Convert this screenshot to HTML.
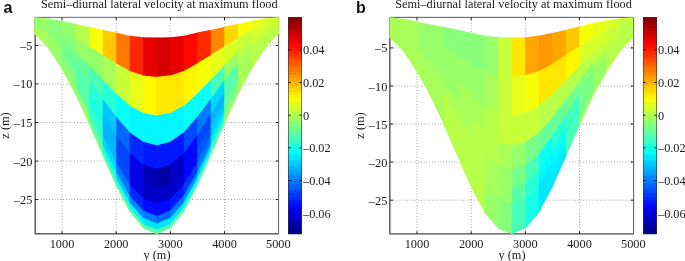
<!DOCTYPE html>
<html><head><meta charset="utf-8"><title>Semi-diurnal lateral velocity</title>
<style>html,body{margin:0;padding:0;background:#fff}svg{display:block;will-change:transform}</style></head>
<body>
<svg width="685" height="261" viewBox="0 0 685 261">
<rect width="685" height="261" fill="#fff"/>
<g  stroke="#2a2a2a" stroke-width="0.65" stroke-dasharray="0.65,2.15" fill="none">
<line x1="62.00" y1="17.35" x2="62.00" y2="234.00"/>
<line x1="116.20" y1="17.35" x2="116.20" y2="234.00"/>
<line x1="170.35" y1="17.35" x2="170.35" y2="234.00"/>
<line x1="224.50" y1="17.35" x2="224.50" y2="234.00"/>
<line x1="35.20" y1="45.40" x2="278.30" y2="45.40"/>
<line x1="35.20" y1="83.90" x2="278.30" y2="83.90"/>
<line x1="35.20" y1="122.45" x2="278.30" y2="122.45"/>
<line x1="35.20" y1="161.10" x2="278.30" y2="161.10"/>
<line x1="35.20" y1="199.50" x2="278.30" y2="199.50"/>
</g>
<g stroke="#636363" stroke-width="1.60" fill="none">
<path d="M35.25 17.35 V233.70 H278.80"/>
<path d="M35.20 17.35 H278.60 V234.00" stroke="#666" stroke-width="1"/>
</g>
<g stroke="#222" stroke-width="1" fill="none">
<path d="M62.00 234.00 v-2.7 M62.00 17.35 v2.7"/>
<path d="M116.20 234.00 v-2.7 M116.20 17.35 v2.7"/>
<path d="M170.35 234.00 v-2.7 M170.35 17.35 v2.7"/>
<path d="M224.50 234.00 v-2.7 M224.50 17.35 v2.7"/>
<path d="M35.20 45.40 h2.9 M278.30 45.40 h-2.7"/>
<path d="M35.20 83.90 h2.9 M278.30 83.90 h-2.7"/>
<path d="M35.20 122.45 h2.9 M278.30 122.45 h-2.7"/>
<path d="M35.20 161.10 h2.9 M278.30 161.10 h-2.7"/>
<path d="M35.20 199.50 h2.9 M278.30 199.50 h-2.7"/>
</g>
<g>
<polygon points="34.50,17.35 49.41,18.45 49.41,25.28 34.50,21.29" fill="#97ff68"/>
<polygon points="34.50,20.56 49.41,24.56 49.41,31.33 34.50,24.49" fill="#97ff68"/>
<polygon points="34.50,23.71 49.41,30.55 49.41,36.00 34.50,26.97" fill="#97ff68"/>
<polygon points="34.50,26.14 49.41,35.17 49.41,39.68 34.50,28.93" fill="#a7ff58"/>
<polygon points="34.50,28.06 49.41,38.81 49.41,42.69 34.50,30.53" fill="#a7ff58"/>
<polygon points="34.50,29.61 49.41,41.77 49.41,45.17 34.50,31.86" fill="#a7ff58"/>
<polygon points="34.50,30.90 49.41,44.21 49.41,47.12 34.50,32.90" fill="#a7ff58"/>
<polygon points="34.50,31.91 49.41,46.13 49.41,48.32 34.50,33.54" fill="#a7ff58"/>
<polygon points="34.50,32.53 49.41,47.31 49.41,49.31 34.50,34.07" fill="#a7ff58"/>
<polygon points="34.50,33.04 49.41,48.29 49.41,48.97 34.50,33.40" fill="#a7ff58"/>
<polygon points="48.71,18.40 62.91,21.13 62.91,31.80 48.71,25.13" fill="#87ff78"/>
<polygon points="48.71,24.36 62.91,31.03 62.91,41.62 48.71,31.08" fill="#87ff78"/>
<polygon points="48.71,30.21 62.91,40.74 62.91,49.19 48.71,35.69" fill="#87ff78"/>
<polygon points="48.71,34.72 62.91,48.23 62.91,55.18 48.71,39.33" fill="#97ff68"/>
<polygon points="48.71,38.28 62.91,54.13 62.91,60.05 48.71,42.29" fill="#97ff68"/>
<polygon points="48.71,41.17 62.91,58.93 62.91,64.08 48.71,44.74" fill="#97ff68"/>
<polygon points="48.71,43.56 62.91,62.90 62.91,67.24 48.71,46.66" fill="#97ff68"/>
<polygon points="48.71,45.43 62.91,66.01 62.91,69.18 48.71,47.84" fill="#97ff68"/>
<polygon points="48.71,46.58 62.91,67.92 62.91,70.79 48.71,48.82" fill="#97ff68"/>
<polygon points="48.71,47.54 62.91,69.50 62.91,70.60 48.71,48.20" fill="#97ff68"/>
<polygon points="62.21,21.00 76.42,24.05 76.42,39.26 62.21,31.50" fill="#97ff68"/>
<polygon points="62.21,30.70 76.42,38.46 76.42,53.54 62.21,41.15" fill="#87ff78"/>
<polygon points="62.21,40.23 76.42,52.62 76.42,64.57 62.21,48.62" fill="#78ff87"/>
<polygon points="62.21,47.56 76.42,63.52 76.42,73.27 62.21,54.51" fill="#68ff97"/>
<polygon points="62.21,53.35 76.42,72.11 76.42,80.36 62.21,59.31" fill="#78ff87"/>
<polygon points="62.21,58.05 76.42,79.10 76.42,86.21 62.21,63.27" fill="#87ff78"/>
<polygon points="62.21,61.94 76.42,84.88 76.42,90.81 62.21,66.39" fill="#87ff78"/>
<polygon points="62.21,64.99 76.42,89.42 76.42,93.63 62.21,68.30" fill="#97ff68"/>
<polygon points="62.21,66.87 76.42,92.20 76.42,95.97 62.21,69.88" fill="#97ff68"/>
<polygon points="62.21,68.42 76.42,94.50 76.42,96.11 62.21,69.50" fill="#a7ff58"/>
<polygon points="75.72,23.90 89.92,26.95 89.92,47.59 75.72,38.90" fill="#b7ff48"/>
<polygon points="75.72,38.08 89.92,46.77 89.92,67.22 75.72,53.00" fill="#97ff68"/>
<polygon points="75.72,52.00 89.92,66.23 89.92,82.37 75.72,63.88" fill="#68ff97"/>
<polygon points="75.72,62.73 89.92,81.22 89.92,94.33 75.72,72.47" fill="#58ffa7"/>
<polygon points="75.72,71.19 89.92,93.04 89.92,104.05 75.72,79.47" fill="#58ffa7"/>
<polygon points="75.72,78.07 89.92,102.65 89.92,112.10 75.72,85.25" fill="#58ffa7"/>
<polygon points="75.72,83.75 89.92,110.60 89.92,118.41 75.72,89.79" fill="#68ff97"/>
<polygon points="75.72,88.21 89.92,116.83 89.92,122.28 75.72,92.57" fill="#87ff78"/>
<polygon points="75.72,90.95 89.92,120.66 89.92,125.49 75.72,94.88" fill="#97ff68"/>
<polygon points="75.72,93.22 89.92,123.83 89.92,126.04 75.72,94.80" fill="#a7ff58"/>
<polygon points="89.22,26.80 103.43,30.06 103.43,56.39 89.22,47.17" fill="#f7ff08"/>
<polygon points="89.22,46.34 103.43,55.55 103.43,81.61 89.22,66.55" fill="#97ff68"/>
<polygon points="89.22,65.53 103.43,80.59 103.43,101.07 89.22,81.50" fill="#48ffb7"/>
<polygon points="89.22,80.31 103.43,99.87 103.43,116.42 89.22,93.30" fill="#28ffd7"/>
<polygon points="89.22,91.97 103.43,115.08 103.43,128.91 89.22,102.90" fill="#18ffe7"/>
<polygon points="89.22,101.44 103.43,127.45 103.43,139.23 89.22,110.84" fill="#28ffd7"/>
<polygon points="89.22,109.28 103.43,137.67 103.43,147.33 89.22,117.07" fill="#38ffc7"/>
<polygon points="89.22,115.42 103.43,145.69 103.43,152.30 89.22,120.89" fill="#58ffa7"/>
<polygon points="89.22,119.19 103.43,150.61 103.43,156.43 89.22,124.06" fill="#68ff97"/>
<polygon points="89.22,122.32 103.43,154.68 103.43,157.53 89.22,124.50" fill="#87ff78"/>
<polygon points="102.73,29.90 116.93,32.74 116.93,64.59 102.73,55.92" fill="#ffc700"/>
<polygon points="102.73,55.10 116.93,63.77 116.93,95.23 102.73,80.84" fill="#a7ff58"/>
<polygon points="102.73,79.85 116.93,94.24 116.93,118.87 102.73,100.07" fill="#28ffd7"/>
<polygon points="102.73,98.91 116.93,117.71 116.93,137.52 102.73,115.24" fill="#00c7ff"/>
<polygon points="102.73,113.94 116.93,136.22 116.93,152.68 102.73,127.59" fill="#00b7ff"/>
<polygon points="102.73,126.16 116.93,151.26 116.93,165.23 102.73,137.79" fill="#00b7ff"/>
<polygon points="102.73,136.27 116.93,163.71 116.93,175.07 102.73,145.80" fill="#00d7ff"/>
<polygon points="102.73,144.19 116.93,173.46 116.93,181.10 102.73,150.71" fill="#08fff7"/>
<polygon points="102.73,149.06 116.93,179.45 116.93,186.11 102.73,154.79" fill="#38ffc7"/>
<polygon points="102.73,153.09 116.93,184.42 116.93,187.88 102.73,155.90" fill="#78ff87"/>
<polygon points="116.23,32.60 130.44,35.97 130.44,72.24 116.23,64.15" fill="#ff7800"/>
<polygon points="116.23,63.34 130.44,71.44 130.44,107.21 116.23,94.47" fill="#c7ff38"/>
<polygon points="116.23,93.53 130.44,106.27 130.44,134.18 116.23,117.85" fill="#08fff7"/>
<polygon points="116.23,116.78 130.44,133.11 130.44,155.44 116.23,136.29" fill="#0068ff"/>
<polygon points="116.23,135.12 130.44,154.27 130.44,172.74 116.23,151.29" fill="#0048ff"/>
<polygon points="116.23,150.03 130.44,171.47 130.44,187.04 116.23,163.70" fill="#0048ff"/>
<polygon points="116.23,162.35 130.44,185.70 130.44,198.26 116.23,173.43" fill="#0078ff"/>
<polygon points="116.23,172.02 130.44,196.85 130.44,205.15 116.23,179.40" fill="#00c7ff"/>
<polygon points="116.23,177.95 130.44,203.70 130.44,210.86 116.23,184.35" fill="#18ffe7"/>
<polygon points="116.23,182.87 130.44,209.38 130.44,213.33 116.23,186.30" fill="#68ff97"/>
<polygon points="129.74,35.80 143.94,37.27 143.94,76.36 129.74,71.78" fill="#ff2800"/>
<polygon points="129.74,71.04 143.94,75.63 143.94,114.08 129.74,106.44" fill="#e7ff18"/>
<polygon points="129.74,105.65 143.94,113.29 143.94,143.16 129.74,133.16" fill="#00f7ff"/>
<polygon points="129.74,132.30 143.94,142.30 143.94,166.09 129.74,154.24" fill="#0028ff"/>
<polygon points="129.74,153.33 143.94,165.18 143.94,184.74 129.74,171.38" fill="#0000e7"/>
<polygon points="129.74,170.42 143.94,183.78 143.94,200.17 129.74,185.55" fill="#0000e7"/>
<polygon points="129.74,184.55 143.94,199.16 143.94,212.26 129.74,196.67" fill="#0028ff"/>
<polygon points="129.74,195.63 143.94,211.22 143.94,219.69 129.74,203.49" fill="#0087ff"/>
<polygon points="129.74,202.43 143.94,218.63 143.94,225.84 129.74,209.15" fill="#00f7ff"/>
<polygon points="129.74,208.07 143.94,224.76 143.94,229.04 129.74,212.00" fill="#68ff97"/>
<polygon points="143.24,37.20 157.45,37.52 157.45,77.62 143.24,76.10" fill="#e70000"/>
<polygon points="143.24,75.40 157.45,76.91 157.45,116.32 143.24,113.62" fill="#fff700"/>
<polygon points="143.24,112.91 157.45,115.60 157.45,146.13 143.24,142.53" fill="#00f7ff"/>
<polygon points="143.24,141.81 157.45,145.41 157.45,169.64 143.24,165.33" fill="#0018ff"/>
<polygon points="143.24,164.60 157.45,168.91 157.45,188.76 143.24,183.86" fill="#0000b7"/>
<polygon points="143.24,183.12 157.45,188.02 157.45,204.57 143.24,199.19" fill="#0000c7"/>
<polygon points="143.24,198.44 157.45,203.82 157.45,216.97 143.24,211.21" fill="#0008ff"/>
<polygon points="143.24,210.46 157.45,216.21 157.45,224.57 143.24,218.59" fill="#0078ff"/>
<polygon points="143.24,217.83 157.45,223.81 157.45,230.88 143.24,224.70" fill="#00e7ff"/>
<polygon points="143.24,223.94 157.45,230.12 157.45,234.51 143.24,228.20" fill="#58ffa7"/>
<polygon points="156.75,37.50 170.96,37.18 170.96,76.03 156.75,77.54" fill="#d70000"/>
<polygon points="156.75,76.84 170.96,75.33 170.96,113.49 156.75,116.18" fill="#ffe700"/>
<polygon points="156.75,115.47 170.96,112.78 170.96,142.36 156.75,145.95" fill="#00f7ff"/>
<polygon points="156.75,145.23 170.96,141.63 170.96,165.12 156.75,169.43" fill="#0018ff"/>
<polygon points="156.75,168.70 170.96,164.38 170.96,183.62 156.75,188.52" fill="#0000a7"/>
<polygon points="156.75,187.78 170.96,182.88 170.96,198.93 156.75,204.30" fill="#0000c7"/>
<polygon points="156.75,203.55 170.96,198.18 170.96,210.93 156.75,216.68" fill="#0008ff"/>
<polygon points="156.75,215.93 170.96,210.17 170.96,218.29 156.75,224.28" fill="#0068ff"/>
<polygon points="156.75,223.52 170.96,217.53 170.96,224.40 156.75,230.58" fill="#00e7ff"/>
<polygon points="156.75,229.81 170.96,223.64 170.96,227.89 156.75,234.20" fill="#58ffa7"/>
<polygon points="170.26,37.20 184.46,35.73 184.46,71.55 170.26,76.14" fill="#e70000"/>
<polygon points="170.26,75.40 184.46,70.81 184.46,106.06 170.26,113.71" fill="#ffe700"/>
<polygon points="170.26,112.91 184.46,105.27 184.46,132.67 170.26,142.67" fill="#00f7ff"/>
<polygon points="170.26,141.81 184.46,131.81 184.46,153.65 170.26,165.51" fill="#0018ff"/>
<polygon points="170.26,164.60 184.46,152.74 184.46,170.72 170.26,184.09" fill="#0000c7"/>
<polygon points="170.26,183.12 184.46,169.76 184.46,184.83 170.26,199.45" fill="#0000c7"/>
<polygon points="170.26,198.44 184.46,183.83 184.46,195.90 170.26,211.50" fill="#0018ff"/>
<polygon points="170.26,210.46 184.46,194.86 184.46,202.70 170.26,218.89" fill="#0078ff"/>
<polygon points="170.26,217.83 184.46,201.63 184.46,208.33 170.26,225.02" fill="#00e7ff"/>
<polygon points="170.26,223.94 184.46,207.25 184.46,211.16 170.26,228.20" fill="#58ffa7"/>
<polygon points="183.76,35.80 197.97,32.43 197.97,63.75 183.76,71.85" fill="#ff0800"/>
<polygon points="183.76,71.04 197.97,62.94 197.97,93.84 183.76,106.59" fill="#fff700"/>
<polygon points="183.76,105.65 197.97,92.90 197.97,117.04 183.76,133.37" fill="#08fff7"/>
<polygon points="183.76,132.30 197.97,115.98 197.97,135.35 183.76,154.50" fill="#0048ff"/>
<polygon points="183.76,153.33 197.97,134.17 197.97,150.24 183.76,171.68" fill="#0008ff"/>
<polygon points="183.76,170.42 197.97,148.97 197.97,162.55 183.76,185.89" fill="#0008ff"/>
<polygon points="183.76,184.55 197.97,161.20 197.97,172.21 183.76,197.04" fill="#0038ff"/>
<polygon points="183.76,195.63 197.97,170.80 197.97,178.13 183.76,203.88" fill="#0097ff"/>
<polygon points="183.76,202.43 197.97,176.69 197.97,183.05 183.76,209.55" fill="#00f7ff"/>
<polygon points="183.76,208.07 197.97,181.57 197.97,184.97 183.76,212.00" fill="#68ff97"/>
<polygon points="197.27,32.60 211.47,29.76 211.47,55.49 197.27,64.16" fill="#ff2800"/>
<polygon points="197.27,63.34 211.47,54.67 211.47,80.13 197.27,94.52" fill="#f7ff08"/>
<polygon points="197.27,93.53 211.47,79.14 211.47,99.14 197.27,117.94" fill="#08fff7"/>
<polygon points="197.27,116.78 211.47,97.98 211.47,114.15 197.27,136.42" fill="#0078ff"/>
<polygon points="197.27,135.12 211.47,112.84 211.47,126.35 197.27,151.45" fill="#0048ff"/>
<polygon points="197.27,150.03 211.47,124.93 211.47,136.44 197.27,163.88" fill="#0058ff"/>
<polygon points="197.27,162.35 211.47,134.92 211.47,144.36 197.27,173.62" fill="#0078ff"/>
<polygon points="197.27,172.02 211.47,142.75 211.47,149.21 197.27,179.61" fill="#00c7ff"/>
<polygon points="197.27,177.95 211.47,147.56 211.47,153.24 197.27,184.57" fill="#18ffe7"/>
<polygon points="197.27,182.87 211.47,151.55 211.47,154.32 197.27,186.30" fill="#68ff97"/>
<polygon points="210.77,29.90 224.98,26.64 224.98,46.72 210.77,55.93" fill="#ff8700"/>
<polygon points="210.77,55.10 224.98,45.89 224.98,65.81 210.77,80.87" fill="#e7ff18"/>
<polygon points="210.77,79.85 224.98,64.79 224.98,80.54 210.77,100.10" fill="#48ffb7"/>
<polygon points="210.77,98.91 224.98,79.35 224.98,92.16 210.77,115.28" fill="#00d7ff"/>
<polygon points="210.77,113.94 224.98,90.83 224.98,101.62 210.77,127.62" fill="#00b7ff"/>
<polygon points="210.77,126.16 224.98,100.16 224.98,109.44 210.77,137.83" fill="#00c7ff"/>
<polygon points="210.77,136.27 224.98,107.88 224.98,115.58 210.77,145.84" fill="#00e7ff"/>
<polygon points="210.77,144.19 224.98,113.93 224.98,119.35 210.77,150.76" fill="#18ffe7"/>
<polygon points="210.77,149.06 224.98,117.65 224.98,122.47 210.77,154.83" fill="#48ffb7"/>
<polygon points="210.77,153.09 224.98,120.73 224.98,122.87 210.77,155.90" fill="#78ff87"/>
<polygon points="224.28,26.80 238.48,23.75 238.48,38.47 224.28,47.16" fill="#ffd700"/>
<polygon points="224.28,46.34 238.48,37.65 238.48,52.29 224.28,66.52" fill="#d7ff28"/>
<polygon points="224.28,65.53 238.48,51.30 238.48,62.97 224.28,81.46" fill="#97ff68"/>
<polygon points="224.28,80.31 238.48,61.82 238.48,71.40 224.28,93.25" fill="#58ffa7"/>
<polygon points="224.28,91.97 238.48,70.11 238.48,78.26 224.28,102.84" fill="#58ffa7"/>
<polygon points="224.28,101.44 238.48,76.86 238.48,83.93 224.28,110.78" fill="#68ff97"/>
<polygon points="224.28,109.28 238.48,82.43 238.48,88.38 224.28,117.00" fill="#78ff87"/>
<polygon points="224.28,115.42 238.48,86.80 238.48,91.11 224.28,120.82" fill="#87ff78"/>
<polygon points="224.28,119.19 238.48,89.49 238.48,93.37 224.28,123.98" fill="#97ff68"/>
<polygon points="224.28,122.32 238.48,91.71 238.48,93.26 224.28,124.50" fill="#a7ff58"/>
<polygon points="237.78,23.90 251.99,20.85 251.99,31.12 237.78,38.88" fill="#f7ff08"/>
<polygon points="237.78,38.08 251.99,30.32 251.99,40.54 237.78,52.93" fill="#c7ff38"/>
<polygon points="237.78,52.00 251.99,39.61 251.99,47.83 237.78,63.78" fill="#b7ff48"/>
<polygon points="237.78,62.73 251.99,46.78 251.99,53.58 237.78,72.35" fill="#a7ff58"/>
<polygon points="237.78,71.19 251.99,52.42 251.99,58.27 237.78,79.32" fill="#a7ff58"/>
<polygon points="237.78,78.07 251.99,57.02 251.99,62.14 237.78,85.08" fill="#a7ff58"/>
<polygon points="237.78,83.75 251.99,60.81 251.99,65.18 237.78,89.61" fill="#a7ff58"/>
<polygon points="237.78,88.21 251.99,63.79 251.99,67.05 237.78,92.38" fill="#a7ff58"/>
<polygon points="237.78,90.95 251.99,65.62 251.99,68.60 237.78,94.68" fill="#a7ff58"/>
<polygon points="237.78,93.22 251.99,67.13 251.99,68.19 237.78,94.80" fill="#a7ff58"/>
<polygon points="251.29,21.00 265.49,18.27 265.49,24.80 251.29,31.47" fill="#e7ff18"/>
<polygon points="251.29,30.70 265.49,24.03 265.49,30.57 251.29,41.10" fill="#d7ff28"/>
<polygon points="251.29,40.23 265.49,29.69 265.49,35.02 251.29,48.53" fill="#c7ff38"/>
<polygon points="251.29,47.56 265.49,34.06 265.49,38.54 251.29,54.40" fill="#b7ff48"/>
<polygon points="251.29,53.35 265.49,37.50 265.49,41.41 251.29,59.17" fill="#b7ff48"/>
<polygon points="251.29,58.05 265.49,40.29 265.49,43.79 251.29,63.13" fill="#b7ff48"/>
<polygon points="251.29,61.94 265.49,42.60 265.49,45.65 251.29,66.23" fill="#b7ff48"/>
<polygon points="251.29,64.99 265.49,44.42 265.49,46.79 251.29,68.13" fill="#b7ff48"/>
<polygon points="251.29,66.87 265.49,45.53 265.49,47.74 251.29,69.71" fill="#b7ff48"/>
<polygon points="251.29,68.42 265.49,46.45 265.49,47.10 251.29,69.50" fill="#b7ff48"/>
<polygon points="264.79,18.40 278.80,17.31 278.80,21.15 264.79,25.09" fill="#d7ff28"/>
<polygon points="264.79,24.36 278.80,20.42 278.80,24.25 264.79,30.99" fill="#c7ff38"/>
<polygon points="264.79,30.21 278.80,23.47 278.80,26.65 264.79,35.55" fill="#c7ff38"/>
<polygon points="264.79,34.72 278.80,25.82 278.80,28.55 264.79,39.15" fill="#b7ff48"/>
<polygon points="264.79,38.28 278.80,27.68 278.80,30.11 264.79,42.09" fill="#b7ff48"/>
<polygon points="264.79,41.17 278.80,29.18 278.80,31.39 264.79,44.52" fill="#b7ff48"/>
<polygon points="264.79,43.56 278.80,30.43 278.80,32.40 264.79,46.42" fill="#b7ff48"/>
<polygon points="264.79,45.43 278.80,31.41 278.80,33.02 264.79,47.59" fill="#b7ff48"/>
<polygon points="264.79,46.58 278.80,32.01 278.80,33.53 264.79,48.56" fill="#b7ff48"/>
<polygon points="264.79,47.54 278.80,32.51 278.80,32.85 264.79,48.20" fill="#b7ff48"/>
</g>
<g shape-rendering="crispEdges">
<rect x="288.40" y="17.35" width="13.20" height="3.69" fill="#870000"/>
<rect x="288.40" y="20.74" width="13.20" height="3.69" fill="#970000"/>
<rect x="288.40" y="24.12" width="13.20" height="3.69" fill="#a70000"/>
<rect x="288.40" y="27.51" width="13.20" height="3.69" fill="#b70000"/>
<rect x="288.40" y="30.89" width="13.20" height="3.69" fill="#c70000"/>
<rect x="288.40" y="34.28" width="13.20" height="3.69" fill="#d70000"/>
<rect x="288.40" y="37.66" width="13.20" height="3.69" fill="#e70000"/>
<rect x="288.40" y="41.05" width="13.20" height="3.69" fill="#f70000"/>
<rect x="288.40" y="44.43" width="13.20" height="3.69" fill="#ff0800"/>
<rect x="288.40" y="47.82" width="13.20" height="3.69" fill="#ff1800"/>
<rect x="288.40" y="51.20" width="13.20" height="3.69" fill="#ff2800"/>
<rect x="288.40" y="54.59" width="13.20" height="3.69" fill="#ff3800"/>
<rect x="288.40" y="57.97" width="13.20" height="3.69" fill="#ff4800"/>
<rect x="288.40" y="61.36" width="13.20" height="3.69" fill="#ff5800"/>
<rect x="288.40" y="64.74" width="13.20" height="3.69" fill="#ff6800"/>
<rect x="288.40" y="68.13" width="13.20" height="3.69" fill="#ff7800"/>
<rect x="288.40" y="71.51" width="13.20" height="3.69" fill="#ff8700"/>
<rect x="288.40" y="74.90" width="13.20" height="3.69" fill="#ff9700"/>
<rect x="288.40" y="78.28" width="13.20" height="3.69" fill="#ffa700"/>
<rect x="288.40" y="81.67" width="13.20" height="3.69" fill="#ffb700"/>
<rect x="288.40" y="85.05" width="13.20" height="3.69" fill="#ffc700"/>
<rect x="288.40" y="88.44" width="13.20" height="3.69" fill="#ffd700"/>
<rect x="288.40" y="91.82" width="13.20" height="3.69" fill="#ffe700"/>
<rect x="288.40" y="95.21" width="13.20" height="3.69" fill="#fff700"/>
<rect x="288.40" y="98.59" width="13.20" height="3.69" fill="#f7ff08"/>
<rect x="288.40" y="101.98" width="13.20" height="3.69" fill="#e7ff18"/>
<rect x="288.40" y="105.36" width="13.20" height="3.69" fill="#d7ff28"/>
<rect x="288.40" y="108.75" width="13.20" height="3.69" fill="#c7ff38"/>
<rect x="288.40" y="112.13" width="13.20" height="3.69" fill="#b7ff48"/>
<rect x="288.40" y="115.52" width="13.20" height="3.69" fill="#a7ff58"/>
<rect x="288.40" y="118.90" width="13.20" height="3.69" fill="#97ff68"/>
<rect x="288.40" y="122.29" width="13.20" height="3.69" fill="#87ff78"/>
<rect x="288.40" y="125.68" width="13.20" height="3.69" fill="#78ff87"/>
<rect x="288.40" y="129.06" width="13.20" height="3.69" fill="#68ff97"/>
<rect x="288.40" y="132.45" width="13.20" height="3.69" fill="#58ffa7"/>
<rect x="288.40" y="135.83" width="13.20" height="3.69" fill="#48ffb7"/>
<rect x="288.40" y="139.22" width="13.20" height="3.69" fill="#38ffc7"/>
<rect x="288.40" y="142.60" width="13.20" height="3.69" fill="#28ffd7"/>
<rect x="288.40" y="145.99" width="13.20" height="3.69" fill="#18ffe7"/>
<rect x="288.40" y="149.37" width="13.20" height="3.69" fill="#08fff7"/>
<rect x="288.40" y="152.76" width="13.20" height="3.69" fill="#00f7ff"/>
<rect x="288.40" y="156.14" width="13.20" height="3.69" fill="#00e7ff"/>
<rect x="288.40" y="159.53" width="13.20" height="3.69" fill="#00d7ff"/>
<rect x="288.40" y="162.91" width="13.20" height="3.69" fill="#00c7ff"/>
<rect x="288.40" y="166.30" width="13.20" height="3.69" fill="#00b7ff"/>
<rect x="288.40" y="169.68" width="13.20" height="3.69" fill="#00a7ff"/>
<rect x="288.40" y="173.07" width="13.20" height="3.69" fill="#0097ff"/>
<rect x="288.40" y="176.45" width="13.20" height="3.69" fill="#0087ff"/>
<rect x="288.40" y="179.84" width="13.20" height="3.69" fill="#0078ff"/>
<rect x="288.40" y="183.22" width="13.20" height="3.69" fill="#0068ff"/>
<rect x="288.40" y="186.61" width="13.20" height="3.69" fill="#0058ff"/>
<rect x="288.40" y="189.99" width="13.20" height="3.69" fill="#0048ff"/>
<rect x="288.40" y="193.38" width="13.20" height="3.69" fill="#0038ff"/>
<rect x="288.40" y="196.76" width="13.20" height="3.69" fill="#0028ff"/>
<rect x="288.40" y="200.15" width="13.20" height="3.69" fill="#0018ff"/>
<rect x="288.40" y="203.53" width="13.20" height="3.69" fill="#0008ff"/>
<rect x="288.40" y="206.92" width="13.20" height="3.69" fill="#0000f7"/>
<rect x="288.40" y="210.30" width="13.20" height="3.69" fill="#0000e7"/>
<rect x="288.40" y="213.69" width="13.20" height="3.69" fill="#0000d7"/>
<rect x="288.40" y="217.07" width="13.20" height="3.69" fill="#0000c7"/>
<rect x="288.40" y="220.46" width="13.20" height="3.69" fill="#0000b7"/>
<rect x="288.40" y="223.84" width="13.20" height="3.69" fill="#0000a7"/>
<rect x="288.40" y="227.23" width="13.20" height="3.69" fill="#000097"/>
<rect x="288.40" y="230.61" width="13.20" height="3.69" fill="#000087"/>
</g>
<rect x="288.40" y="17.35" width="13.20" height="216.65" fill="none" stroke="#333" stroke-width="0.6"/>
<g stroke="#111" stroke-width="1">
<path d="M288.40 49.80 h2.2 M301.60 49.80 h-2.2"/>
<path d="M288.40 82.50 h2.2 M301.60 82.50 h-2.2"/>
<path d="M288.40 115.20 h2.2 M301.60 115.20 h-2.2"/>
<path d="M288.40 147.80 h2.2 M301.60 147.80 h-2.2"/>
<path d="M288.40 180.50 h2.2 M301.60 180.50 h-2.2"/>
<path d="M288.40 213.20 h2.2 M301.60 213.20 h-2.2"/>
</g>
<g font-family="'Liberation Serif', serif" font-size="12.3px" fill="#1a1a1a">
<text x="303.00" y="54.10">0.04</text>
<text x="303.00" y="86.80">0.02</text>
<text x="303.00" y="119.50">0</text>
<text x="303.00" y="152.10">–0.02</text>
<text x="303.00" y="184.80">–0.04</text>
<text x="303.00" y="217.50">–0.06</text>
<text x="62.00" y="247.6" text-anchor="middle">1000</text>
<text x="116.20" y="247.6" text-anchor="middle">2000</text>
<text x="170.35" y="247.6" text-anchor="middle">3000</text>
<text x="224.50" y="247.6" text-anchor="middle">4000</text>
<text x="278.30" y="247.6" text-anchor="middle">5000</text>
<text x="32.30" y="49.90" text-anchor="end">–5</text>
<text x="32.30" y="88.40" text-anchor="end">–10</text>
<text x="32.30" y="126.95" text-anchor="end">–15</text>
<text x="32.30" y="165.60" text-anchor="end">–20</text>
<text x="32.30" y="204.00" text-anchor="end">–25</text>
<text x="157.00" y="258.6" text-anchor="middle">y (m)</text>
<text transform="translate(8.50,125.5) rotate(-90)" text-anchor="middle">z (m)</text>
<text x="41.00" y="8.15">Semi–diurnal lateral velocity at maximum flood</text>
</g>
<text x="3.40" y="12.6" font-family="'Liberation Sans', sans-serif" font-weight="bold" font-size="16px" fill="#111">a</text>
<g  stroke="#2a2a2a" stroke-width="0.65" stroke-dasharray="0.65,2.15" fill="none">
<line x1="417.00" y1="17.35" x2="417.00" y2="234.00"/>
<line x1="471.20" y1="17.35" x2="471.20" y2="234.00"/>
<line x1="525.35" y1="17.35" x2="525.35" y2="234.00"/>
<line x1="579.50" y1="17.35" x2="579.50" y2="234.00"/>
<line x1="390.20" y1="47.90" x2="633.30" y2="47.90"/>
<line x1="390.20" y1="86.00" x2="633.30" y2="86.00"/>
<line x1="390.20" y1="124.05" x2="633.30" y2="124.05"/>
<line x1="390.20" y1="162.10" x2="633.30" y2="162.10"/>
<line x1="390.20" y1="200.20" x2="633.30" y2="200.20"/>
</g>
<g stroke="#4a4a4a" stroke-width="1.35" fill="none">
<path d="M389.85 17.35 V233.85 H633.80"/>
<path d="M390.20 17.35 H633.60 V234.00" stroke="#555" stroke-width="1"/>
</g>
<g stroke="#222" stroke-width="1" fill="none">
<path d="M417.00 234.00 v-2.7 M417.00 17.35 v2.7"/>
<path d="M471.20 234.00 v-2.7 M471.20 17.35 v2.7"/>
<path d="M525.35 234.00 v-2.7 M525.35 17.35 v2.7"/>
<path d="M579.50 234.00 v-2.7 M579.50 17.35 v2.7"/>
<path d="M390.20 47.90 h2.9 M633.30 47.90 h-2.7"/>
<path d="M390.20 86.00 h2.9 M633.30 86.00 h-2.7"/>
<path d="M390.20 124.05 h2.9 M633.30 124.05 h-2.7"/>
<path d="M390.20 162.10 h2.9 M633.30 162.10 h-2.7"/>
<path d="M390.20 200.20 h2.9 M633.30 200.20 h-2.7"/>
</g>
<g>
<polygon points="389.50,17.35 404.41,18.93 404.41,26.26 389.50,22.01" fill="#a7ff58"/>
<polygon points="389.50,21.28 404.41,25.53 404.41,32.79 389.50,25.92" fill="#a7ff58"/>
<polygon points="389.50,25.14 404.41,32.01 404.41,37.83 389.50,28.94" fill="#a7ff58"/>
<polygon points="389.50,28.11 404.41,37.01 404.41,41.81 389.50,31.33" fill="#a7ff58"/>
<polygon points="389.50,30.46 404.41,40.94 404.41,45.06 389.50,33.27" fill="#a7ff58"/>
<polygon points="389.50,32.36 404.41,44.15 404.41,47.74 389.50,34.88" fill="#a7ff58"/>
<polygon points="389.50,33.94 404.41,46.79 404.41,49.84 389.50,36.15" fill="#a7ff58"/>
<polygon points="389.50,35.17 404.41,48.87 404.41,51.13 389.50,36.92" fill="#a7ff58"/>
<polygon points="389.50,35.93 404.41,50.14 404.41,52.21 389.50,37.57" fill="#a7ff58"/>
<polygon points="389.50,36.56 404.41,51.20 404.41,51.94 389.50,37.00" fill="#a7ff58"/>
<polygon points="403.71,18.85 417.91,21.85 417.91,32.87 403.71,26.10" fill="#a7ff58"/>
<polygon points="403.71,25.32 417.91,32.09 417.91,43.03 403.71,32.54" fill="#a7ff58"/>
<polygon points="403.71,31.67 417.91,42.16 417.91,50.87 403.71,37.53" fill="#a7ff58"/>
<polygon points="403.71,36.57 417.91,49.91 417.91,57.06 403.71,41.47" fill="#a7ff58"/>
<polygon points="403.71,40.43 417.91,56.02 417.91,62.10 403.71,44.67" fill="#a7ff58"/>
<polygon points="403.71,43.57 417.91,60.99 417.91,66.26 403.71,47.33" fill="#a7ff58"/>
<polygon points="403.71,46.16 417.91,65.10 417.91,69.53 403.71,49.41" fill="#a7ff58"/>
<polygon points="403.71,48.19 417.91,68.32 417.91,71.54 403.71,50.69" fill="#a7ff58"/>
<polygon points="403.71,49.44 417.91,70.30 417.91,73.20 403.71,51.75" fill="#a7ff58"/>
<polygon points="403.71,50.48 417.91,71.94 417.91,73.08 403.71,51.20" fill="#a7ff58"/>
<polygon points="417.21,21.70 431.42,24.65 431.42,40.06 417.21,32.55" fill="#97ff68"/>
<polygon points="417.21,31.76 431.42,39.27 431.42,54.55 417.21,42.56" fill="#97ff68"/>
<polygon points="417.21,41.64 431.42,53.63 431.42,65.73 417.21,50.28" fill="#97ff68"/>
<polygon points="417.21,49.25 431.42,64.70 431.42,74.56 417.21,56.39" fill="#a7ff58"/>
<polygon points="417.21,55.25 431.42,73.42 431.42,81.74 417.21,61.35" fill="#a7ff58"/>
<polygon points="417.21,60.13 431.42,80.51 431.42,87.68 417.21,65.46" fill="#a7ff58"/>
<polygon points="417.21,64.16 431.42,86.38 431.42,92.34 417.21,68.69" fill="#a7ff58"/>
<polygon points="417.21,67.33 431.42,90.98 431.42,95.20 417.21,70.67" fill="#a7ff58"/>
<polygon points="417.21,69.27 431.42,93.80 431.42,97.57 417.21,72.31" fill="#a7ff58"/>
<polygon points="417.21,70.88 431.42,96.14 431.42,97.77 417.21,72.00" fill="#a7ff58"/>
<polygon points="430.72,24.50 444.92,27.23 444.92,48.11 430.72,39.71" fill="#97ff68"/>
<polygon points="430.72,38.90 444.92,47.29 444.92,67.97 430.72,54.02" fill="#97ff68"/>
<polygon points="430.72,53.04 444.92,66.99 444.92,83.30 430.72,65.07" fill="#97ff68"/>
<polygon points="430.72,63.93 444.92,82.17 444.92,95.41 430.72,73.80" fill="#a7ff58"/>
<polygon points="430.72,72.52 444.92,94.13 444.92,105.25 430.72,80.90" fill="#a7ff58"/>
<polygon points="430.72,79.51 444.92,103.86 444.92,113.39 430.72,86.77" fill="#a7ff58"/>
<polygon points="430.72,85.28 444.92,111.90 444.92,119.78 430.72,91.38" fill="#a7ff58"/>
<polygon points="430.72,89.81 444.92,118.21 444.92,123.70 430.72,94.20" fill="#a7ff58"/>
<polygon points="430.72,92.59 444.92,122.08 444.92,126.95 430.72,96.55" fill="#a7ff58"/>
<polygon points="430.72,94.89 444.92,125.29 444.92,127.53 430.72,96.50" fill="#a7ff58"/>
<polygon points="444.22,27.10 458.43,29.83 458.43,56.45 444.22,47.70" fill="#87ff78"/>
<polygon points="444.22,46.88 458.43,55.63 458.43,81.97 444.22,67.31" fill="#97ff68"/>
<polygon points="444.22,66.30 458.43,80.96 458.43,101.66 444.22,82.44" fill="#97ff68"/>
<polygon points="444.22,81.27 458.43,100.48 458.43,117.19 444.22,94.39" fill="#a7ff58"/>
<polygon points="444.22,93.07 458.43,115.87 458.43,129.83 444.22,104.11" fill="#b7ff48"/>
<polygon points="444.22,102.66 458.43,128.38 458.43,140.27 444.22,112.14" fill="#b7ff48"/>
<polygon points="444.22,110.59 458.43,138.72 458.43,148.47 444.22,118.45" fill="#b7ff48"/>
<polygon points="444.22,116.81 458.43,146.83 458.43,153.50 444.22,122.32" fill="#b7ff48"/>
<polygon points="444.22,120.63 458.43,151.81 458.43,157.67 444.22,125.53" fill="#b7ff48"/>
<polygon points="444.22,123.79 458.43,155.94 458.43,158.82 444.22,126.00" fill="#b7ff48"/>
<polygon points="457.73,29.70 471.93,32.86 471.93,64.95 457.73,56.03" fill="#87ff78"/>
<polygon points="457.73,55.20 471.93,64.12 471.93,95.82 457.73,81.24" fill="#97ff68"/>
<polygon points="457.73,80.24 471.93,94.82 471.93,119.64 457.73,100.70" fill="#a7ff58"/>
<polygon points="457.73,99.53 471.93,118.47 471.93,138.43 457.73,116.05" fill="#a7ff58"/>
<polygon points="457.73,114.74 471.93,137.12 471.93,153.71 457.73,128.53" fill="#b7ff48"/>
<polygon points="457.73,127.11 471.93,152.28 471.93,166.35 457.73,138.86" fill="#b7ff48"/>
<polygon points="457.73,137.34 471.93,164.82 471.93,176.26 457.73,146.96" fill="#b7ff48"/>
<polygon points="457.73,145.36 471.93,174.65 471.93,182.34 457.73,151.93" fill="#b7ff48"/>
<polygon points="457.73,150.28 471.93,180.69 471.93,187.38 457.73,156.05" fill="#b7ff48"/>
<polygon points="457.73,154.36 471.93,185.69 471.93,189.18 457.73,157.20" fill="#b7ff48"/>
<polygon points="471.23,32.70 485.44,35.86 485.44,72.35 471.23,64.48" fill="#87ff78"/>
<polygon points="471.23,63.68 485.44,71.55 485.44,107.53 471.23,95.03" fill="#97ff68"/>
<polygon points="471.23,94.10 485.44,106.60 485.44,134.66 471.23,118.60" fill="#a7ff58"/>
<polygon points="471.23,117.54 485.44,133.60 485.44,156.05 471.23,137.18" fill="#b7ff48"/>
<polygon points="471.23,136.02 485.44,154.89 485.44,173.46 471.23,152.30" fill="#b7ff48"/>
<polygon points="471.23,151.04 485.44,172.20 485.44,187.85 471.23,164.80" fill="#b7ff48"/>
<polygon points="471.23,163.47 485.44,186.51 485.44,199.13 471.23,174.61" fill="#b7ff48"/>
<polygon points="471.23,173.21 485.44,197.74 485.44,206.06 471.23,180.62" fill="#b7ff48"/>
<polygon points="471.23,179.19 485.44,204.63 485.44,211.81 471.23,185.61" fill="#b7ff48"/>
<polygon points="471.23,184.15 485.44,210.34 485.44,214.32 471.23,187.60" fill="#b7ff48"/>
<polygon points="484.74,35.70 498.94,37.28 498.94,76.40 484.74,71.89" fill="#97ff68"/>
<polygon points="484.74,71.16 498.94,75.66 498.94,114.14 484.74,106.77" fill="#a7ff58"/>
<polygon points="484.74,105.98 498.94,113.36 498.94,143.24 484.74,133.65" fill="#b7ff48"/>
<polygon points="484.74,132.81 498.94,142.39 498.94,166.18 484.74,154.85" fill="#b7ff48"/>
<polygon points="484.74,153.96 498.94,165.29 498.94,184.85 484.74,172.10" fill="#a7ff58"/>
<polygon points="484.74,171.16 498.94,183.90 498.94,200.28 484.74,186.36" fill="#a7ff58"/>
<polygon points="484.74,185.38 498.94,199.30 498.94,212.38 484.74,197.54" fill="#97ff68"/>
<polygon points="484.74,196.53 498.94,211.37 498.94,219.81 484.74,204.41" fill="#97ff68"/>
<polygon points="484.74,203.37 498.94,218.78 498.94,225.97 484.74,210.10" fill="#97ff68"/>
<polygon points="484.74,209.05 498.94,224.92 498.94,229.20 484.74,213.00" fill="#97ff68"/>
<polygon points="498.24,37.20 512.45,37.41 512.45,77.53 498.24,76.14" fill="#c7ff38"/>
<polygon points="498.24,75.44 512.45,76.83 512.45,116.25 498.24,113.70" fill="#c7ff38"/>
<polygon points="498.24,112.99 512.45,115.54 512.45,146.08 498.24,142.64" fill="#c7ff38"/>
<polygon points="498.24,141.92 512.45,145.36 512.45,169.60 498.24,165.46" fill="#a7ff58"/>
<polygon points="498.24,164.73 512.45,168.87 512.45,188.72 498.24,184.01" fill="#97ff68"/>
<polygon points="498.24,183.28 512.45,187.99 512.45,204.54 498.24,199.36" fill="#97ff68"/>
<polygon points="498.24,198.61 512.45,203.79 512.45,216.94 498.24,211.39" fill="#87ff78"/>
<polygon points="498.24,210.64 512.45,216.19 512.45,224.55 498.24,218.77" fill="#87ff78"/>
<polygon points="498.24,218.02 512.45,223.80 512.45,230.86 498.24,224.90" fill="#87ff78"/>
<polygon points="498.24,224.14 512.45,230.11 512.45,234.50 498.24,228.40" fill="#87ff78"/>
<polygon points="511.75,37.40 525.96,37.19 525.96,76.07 511.75,77.46" fill="#ffe700"/>
<polygon points="511.75,76.76 525.96,75.37 525.96,113.58 511.75,116.12" fill="#e7ff18"/>
<polygon points="511.75,115.41 525.96,112.87 525.96,142.47 511.75,145.91" fill="#c7ff38"/>
<polygon points="511.75,145.19 525.96,141.75 525.96,165.26 511.75,169.39" fill="#97ff68"/>
<polygon points="511.75,168.67 525.96,164.53 525.96,183.78 511.75,188.49" fill="#78ff87"/>
<polygon points="511.75,187.76 525.96,183.04 525.96,199.10 511.75,204.28" fill="#58ffa7"/>
<polygon points="511.75,203.54 525.96,198.36 525.96,211.12 511.75,216.67" fill="#48ffb7"/>
<polygon points="511.75,215.92 525.96,210.36 525.96,218.49 511.75,224.27" fill="#48ffb7"/>
<polygon points="511.75,223.51 525.96,217.73 525.96,224.60 511.75,230.57" fill="#48ffb7"/>
<polygon points="511.75,229.81 525.96,223.84 525.96,228.10 511.75,234.20" fill="#48ffb7"/>
<polygon points="525.26,37.20 539.46,35.62 539.46,71.67 525.26,76.17" fill="#ffa700"/>
<polygon points="525.26,75.44 539.46,70.94 539.46,106.41 525.26,113.78" fill="#f7ff08"/>
<polygon points="525.26,112.99 539.46,105.62 539.46,133.18 525.26,142.76" fill="#c7ff38"/>
<polygon points="525.26,141.92 539.46,132.33 539.46,154.30 525.26,165.63" fill="#78ff87"/>
<polygon points="525.26,164.73 539.46,153.40 539.46,171.47 525.26,184.22" fill="#48ffb7"/>
<polygon points="525.26,183.28 539.46,170.53 539.46,185.67 525.26,199.59" fill="#28ffd7"/>
<polygon points="525.26,198.61 539.46,184.69 539.46,196.81 525.26,211.65" fill="#18ffe7"/>
<polygon points="525.26,210.64 539.46,195.80 539.46,203.65 525.26,219.05" fill="#18ffe7"/>
<polygon points="525.26,218.02 539.46,202.61 539.46,209.31 525.26,225.19" fill="#18ffe7"/>
<polygon points="525.26,224.14 539.46,208.26 539.46,212.20 525.26,228.40" fill="#18ffe7"/>
<polygon points="538.76,35.70 552.97,32.75 552.97,64.26 538.76,71.96" fill="#ff9700"/>
<polygon points="538.76,71.16 552.97,63.46 552.97,94.54 538.76,106.91" fill="#ffe700"/>
<polygon points="538.76,105.98 552.97,93.61 552.97,117.90 538.76,133.86" fill="#b7ff48"/>
<polygon points="538.76,132.81 552.97,116.84 552.97,136.32 538.76,155.12" fill="#68ff97"/>
<polygon points="538.76,153.96 552.97,135.16 552.97,151.30 538.76,172.41" fill="#08fff7"/>
<polygon points="538.76,171.16 552.97,150.05 552.97,163.70 538.76,186.71" fill="#00f7ff"/>
<polygon points="538.76,185.38 552.97,162.36 552.97,173.42 538.76,197.92" fill="#00e7ff"/>
<polygon points="538.76,196.53 552.97,172.02 552.97,179.38 538.76,204.81" fill="#00e7ff"/>
<polygon points="538.76,203.37 552.97,177.95 552.97,184.33 538.76,210.51" fill="#00e7ff"/>
<polygon points="538.76,209.05 552.97,182.86 552.97,186.28 538.76,213.00" fill="#00e7ff"/>
<polygon points="552.27,32.90 566.47,29.64 566.47,55.67 552.27,64.67" fill="#ffa700"/>
<polygon points="552.27,63.84 566.47,54.84 566.47,80.59 552.27,95.23" fill="#ffe700"/>
<polygon points="552.27,94.22 566.47,79.58 566.47,99.81 552.27,118.80" fill="#b7ff48"/>
<polygon points="552.27,117.63 566.47,98.64 566.47,114.98 552.27,137.39" fill="#68ff97"/>
<polygon points="552.27,136.08 566.47,113.67 566.47,127.32 552.27,152.52" fill="#28ffd7"/>
<polygon points="552.27,151.09 566.47,125.89 566.47,137.52 552.27,165.02" fill="#08fff7"/>
<polygon points="552.27,163.50 566.47,136.00 566.47,145.53 552.27,174.83" fill="#00f7ff"/>
<polygon points="552.27,173.23 566.47,143.92 566.47,150.44 552.27,180.85" fill="#00e7ff"/>
<polygon points="552.27,179.20 566.47,148.78 566.47,154.51 552.27,185.85" fill="#00e7ff"/>
<polygon points="552.27,184.15 566.47,152.81 566.47,155.62 552.27,187.60" fill="#00e7ff"/>
<polygon points="565.77,29.80 579.98,26.33 579.98,46.78 565.77,56.12" fill="#ffc700"/>
<polygon points="565.77,55.28 579.98,45.94 579.98,66.22 565.77,81.32" fill="#fff700"/>
<polygon points="565.77,80.30 579.98,65.20 579.98,81.22 565.77,100.77" fill="#b7ff48"/>
<polygon points="565.77,99.58 579.98,80.03 579.98,93.06 565.77,116.11" fill="#78ff87"/>
<polygon points="565.77,114.78 579.98,91.73 579.98,102.70 565.77,128.59" fill="#48ffb7"/>
<polygon points="565.77,127.13 579.98,101.24 579.98,110.66 565.77,138.91" fill="#38ffc7"/>
<polygon points="565.77,137.35 579.98,109.11 579.98,116.91 565.77,147.00" fill="#48ffb7"/>
<polygon points="565.77,145.36 579.98,115.27 579.98,120.75 565.77,151.97" fill="#48ffb7"/>
<polygon points="565.77,150.28 579.98,119.06 579.98,123.93 565.77,156.09" fill="#48ffb7"/>
<polygon points="565.77,154.36 579.98,122.20 579.98,124.38 565.77,157.20" fill="#58ffa7"/>
<polygon points="579.28,26.50 593.48,22.82 593.48,38.08 579.28,47.23" fill="#f7ff08"/>
<polygon points="579.28,46.40 593.48,37.25 593.48,52.42 579.28,66.94" fill="#d7ff28"/>
<polygon points="579.28,65.94 593.48,51.42 593.48,63.49 579.28,82.15" fill="#b7ff48"/>
<polygon points="579.28,81.00 593.48,62.34 593.48,72.23 579.28,94.15" fill="#87ff78"/>
<polygon points="579.28,92.87 593.48,70.94 593.48,79.34 579.28,103.92" fill="#78ff87"/>
<polygon points="579.28,102.52 593.48,77.94 593.48,85.22 579.28,111.99" fill="#78ff87"/>
<polygon points="579.28,110.50 593.48,83.73 593.48,89.84 579.28,118.33" fill="#78ff87"/>
<polygon points="579.28,116.76 593.48,88.27 593.48,92.67 579.28,122.21" fill="#87ff78"/>
<polygon points="579.28,120.60 593.48,91.05 593.48,95.02 579.28,125.44" fill="#97ff68"/>
<polygon points="579.28,123.78 593.48,93.36 593.48,94.97 579.28,126.00" fill="#a7ff58"/>
<polygon points="592.78,23.00 606.99,20.27 606.99,31.15 592.78,38.49" fill="#e7ff18"/>
<polygon points="592.78,37.70 606.99,30.36 606.99,41.18 592.78,53.05" fill="#d7ff28"/>
<polygon points="592.78,52.14 606.99,40.27 606.99,48.94 592.78,64.29" fill="#c7ff38"/>
<polygon points="592.78,63.26 606.99,47.90 606.99,55.06 592.78,73.16" fill="#a7ff58"/>
<polygon points="592.78,72.02 606.99,53.93 606.99,60.04 592.78,80.38" fill="#97ff68"/>
<polygon points="592.78,79.15 606.99,58.82 606.99,64.17 592.78,86.35" fill="#97ff68"/>
<polygon points="592.78,85.05 606.99,62.87 606.99,67.40 592.78,91.03" fill="#97ff68"/>
<polygon points="592.78,89.67 606.99,66.04 606.99,69.39 592.78,93.91" fill="#97ff68"/>
<polygon points="592.78,92.51 606.99,67.99 606.99,71.03 592.78,96.29" fill="#97ff68"/>
<polygon points="592.78,94.86 606.99,69.60 606.99,70.73 592.78,96.50" fill="#a7ff58"/>
<polygon points="606.29,20.40 620.49,18.19 620.49,25.34 606.29,31.48" fill="#d7ff28"/>
<polygon points="606.29,30.72 620.49,24.58 620.49,31.70 606.29,41.71" fill="#c7ff38"/>
<polygon points="606.29,40.85 620.49,30.85 620.49,36.63 606.29,49.61" fill="#c7ff38"/>
<polygon points="606.29,48.66 620.49,35.68 620.49,40.52 606.29,55.85" fill="#b7ff48"/>
<polygon points="606.29,54.82 620.49,39.49 620.49,43.69 606.29,60.92" fill="#b7ff48"/>
<polygon points="606.29,59.82 620.49,42.59 620.49,46.31 606.29,65.12" fill="#b7ff48"/>
<polygon points="606.29,63.96 620.49,45.15 620.49,48.37 606.29,68.42" fill="#b7ff48"/>
<polygon points="606.29,67.21 620.49,47.16 620.49,49.63 606.29,70.44" fill="#b7ff48"/>
<polygon points="606.29,69.20 620.49,48.39 620.49,50.68 606.29,72.12" fill="#b7ff48"/>
<polygon points="606.29,70.85 620.49,49.41 620.49,50.12 606.29,72.00" fill="#b7ff48"/>
<polygon points="619.79,18.30 633.10,17.36 633.10,22.06 619.79,25.60" fill="#c7ff38"/>
<polygon points="619.79,24.88 633.10,21.33 633.10,26.00 619.79,32.11" fill="#b7ff48"/>
<polygon points="619.79,31.34 633.10,25.23 633.10,29.05 619.79,37.14" fill="#b7ff48"/>
<polygon points="619.79,36.32 633.10,28.23 633.10,31.47 619.79,41.11" fill="#b7ff48"/>
<polygon points="619.79,40.24 633.10,30.60 633.10,33.43 619.79,44.34" fill="#b7ff48"/>
<polygon points="619.79,43.44 633.10,32.53 633.10,35.06 619.79,47.02" fill="#b7ff48"/>
<polygon points="619.79,46.07 633.10,34.12 633.10,36.34 619.79,49.11" fill="#b7ff48"/>
<polygon points="619.79,48.14 633.10,35.37 633.10,37.12 619.79,50.40" fill="#b7ff48"/>
<polygon points="619.79,49.41 633.10,36.13 633.10,37.77 619.79,51.47" fill="#b7ff48"/>
<polygon points="619.79,50.47 633.10,36.77 633.10,37.21 619.79,51.20" fill="#b7ff48"/>
</g>
<g shape-rendering="crispEdges">
<rect x="643.40" y="17.35" width="13.20" height="3.69" fill="#870000"/>
<rect x="643.40" y="20.74" width="13.20" height="3.69" fill="#970000"/>
<rect x="643.40" y="24.12" width="13.20" height="3.69" fill="#a70000"/>
<rect x="643.40" y="27.51" width="13.20" height="3.69" fill="#b70000"/>
<rect x="643.40" y="30.89" width="13.20" height="3.69" fill="#c70000"/>
<rect x="643.40" y="34.28" width="13.20" height="3.69" fill="#d70000"/>
<rect x="643.40" y="37.66" width="13.20" height="3.69" fill="#e70000"/>
<rect x="643.40" y="41.05" width="13.20" height="3.69" fill="#f70000"/>
<rect x="643.40" y="44.43" width="13.20" height="3.69" fill="#ff0800"/>
<rect x="643.40" y="47.82" width="13.20" height="3.69" fill="#ff1800"/>
<rect x="643.40" y="51.20" width="13.20" height="3.69" fill="#ff2800"/>
<rect x="643.40" y="54.59" width="13.20" height="3.69" fill="#ff3800"/>
<rect x="643.40" y="57.97" width="13.20" height="3.69" fill="#ff4800"/>
<rect x="643.40" y="61.36" width="13.20" height="3.69" fill="#ff5800"/>
<rect x="643.40" y="64.74" width="13.20" height="3.69" fill="#ff6800"/>
<rect x="643.40" y="68.13" width="13.20" height="3.69" fill="#ff7800"/>
<rect x="643.40" y="71.51" width="13.20" height="3.69" fill="#ff8700"/>
<rect x="643.40" y="74.90" width="13.20" height="3.69" fill="#ff9700"/>
<rect x="643.40" y="78.28" width="13.20" height="3.69" fill="#ffa700"/>
<rect x="643.40" y="81.67" width="13.20" height="3.69" fill="#ffb700"/>
<rect x="643.40" y="85.05" width="13.20" height="3.69" fill="#ffc700"/>
<rect x="643.40" y="88.44" width="13.20" height="3.69" fill="#ffd700"/>
<rect x="643.40" y="91.82" width="13.20" height="3.69" fill="#ffe700"/>
<rect x="643.40" y="95.21" width="13.20" height="3.69" fill="#fff700"/>
<rect x="643.40" y="98.59" width="13.20" height="3.69" fill="#f7ff08"/>
<rect x="643.40" y="101.98" width="13.20" height="3.69" fill="#e7ff18"/>
<rect x="643.40" y="105.36" width="13.20" height="3.69" fill="#d7ff28"/>
<rect x="643.40" y="108.75" width="13.20" height="3.69" fill="#c7ff38"/>
<rect x="643.40" y="112.13" width="13.20" height="3.69" fill="#b7ff48"/>
<rect x="643.40" y="115.52" width="13.20" height="3.69" fill="#a7ff58"/>
<rect x="643.40" y="118.90" width="13.20" height="3.69" fill="#97ff68"/>
<rect x="643.40" y="122.29" width="13.20" height="3.69" fill="#87ff78"/>
<rect x="643.40" y="125.68" width="13.20" height="3.69" fill="#78ff87"/>
<rect x="643.40" y="129.06" width="13.20" height="3.69" fill="#68ff97"/>
<rect x="643.40" y="132.45" width="13.20" height="3.69" fill="#58ffa7"/>
<rect x="643.40" y="135.83" width="13.20" height="3.69" fill="#48ffb7"/>
<rect x="643.40" y="139.22" width="13.20" height="3.69" fill="#38ffc7"/>
<rect x="643.40" y="142.60" width="13.20" height="3.69" fill="#28ffd7"/>
<rect x="643.40" y="145.99" width="13.20" height="3.69" fill="#18ffe7"/>
<rect x="643.40" y="149.37" width="13.20" height="3.69" fill="#08fff7"/>
<rect x="643.40" y="152.76" width="13.20" height="3.69" fill="#00f7ff"/>
<rect x="643.40" y="156.14" width="13.20" height="3.69" fill="#00e7ff"/>
<rect x="643.40" y="159.53" width="13.20" height="3.69" fill="#00d7ff"/>
<rect x="643.40" y="162.91" width="13.20" height="3.69" fill="#00c7ff"/>
<rect x="643.40" y="166.30" width="13.20" height="3.69" fill="#00b7ff"/>
<rect x="643.40" y="169.68" width="13.20" height="3.69" fill="#00a7ff"/>
<rect x="643.40" y="173.07" width="13.20" height="3.69" fill="#0097ff"/>
<rect x="643.40" y="176.45" width="13.20" height="3.69" fill="#0087ff"/>
<rect x="643.40" y="179.84" width="13.20" height="3.69" fill="#0078ff"/>
<rect x="643.40" y="183.22" width="13.20" height="3.69" fill="#0068ff"/>
<rect x="643.40" y="186.61" width="13.20" height="3.69" fill="#0058ff"/>
<rect x="643.40" y="189.99" width="13.20" height="3.69" fill="#0048ff"/>
<rect x="643.40" y="193.38" width="13.20" height="3.69" fill="#0038ff"/>
<rect x="643.40" y="196.76" width="13.20" height="3.69" fill="#0028ff"/>
<rect x="643.40" y="200.15" width="13.20" height="3.69" fill="#0018ff"/>
<rect x="643.40" y="203.53" width="13.20" height="3.69" fill="#0008ff"/>
<rect x="643.40" y="206.92" width="13.20" height="3.69" fill="#0000f7"/>
<rect x="643.40" y="210.30" width="13.20" height="3.69" fill="#0000e7"/>
<rect x="643.40" y="213.69" width="13.20" height="3.69" fill="#0000d7"/>
<rect x="643.40" y="217.07" width="13.20" height="3.69" fill="#0000c7"/>
<rect x="643.40" y="220.46" width="13.20" height="3.69" fill="#0000b7"/>
<rect x="643.40" y="223.84" width="13.20" height="3.69" fill="#0000a7"/>
<rect x="643.40" y="227.23" width="13.20" height="3.69" fill="#000097"/>
<rect x="643.40" y="230.61" width="13.20" height="3.69" fill="#000087"/>
</g>
<rect x="643.40" y="17.35" width="13.20" height="216.65" fill="none" stroke="#333" stroke-width="0.6"/>
<g stroke="#111" stroke-width="1">
<path d="M643.40 49.80 h2.2 M656.60 49.80 h-2.2"/>
<path d="M643.40 82.50 h2.2 M656.60 82.50 h-2.2"/>
<path d="M643.40 115.20 h2.2 M656.60 115.20 h-2.2"/>
<path d="M643.40 147.80 h2.2 M656.60 147.80 h-2.2"/>
<path d="M643.40 180.50 h2.2 M656.60 180.50 h-2.2"/>
<path d="M643.40 213.20 h2.2 M656.60 213.20 h-2.2"/>
</g>
<g font-family="'Liberation Serif', serif" font-size="12.3px" fill="#1a1a1a">
<text x="658.00" y="54.10">0.04</text>
<text x="658.00" y="86.80">0.02</text>
<text x="658.00" y="119.50">0</text>
<text x="658.00" y="152.10">–0.02</text>
<text x="658.00" y="184.80">–0.04</text>
<text x="658.00" y="217.50">–0.06</text>
<text x="417.00" y="247.6" text-anchor="middle">1000</text>
<text x="471.20" y="247.6" text-anchor="middle">2000</text>
<text x="525.35" y="247.6" text-anchor="middle">3000</text>
<text x="579.50" y="247.6" text-anchor="middle">4000</text>
<text x="633.30" y="247.6" text-anchor="middle">5000</text>
<text x="387.30" y="52.40" text-anchor="end">–5</text>
<text x="387.30" y="90.50" text-anchor="end">–10</text>
<text x="387.30" y="128.55" text-anchor="end">–15</text>
<text x="387.30" y="166.60" text-anchor="end">–20</text>
<text x="387.30" y="204.70" text-anchor="end">–25</text>
<text x="512.00" y="258.6" text-anchor="middle">y (m)</text>
<text transform="translate(363.50,125.5) rotate(-90)" text-anchor="middle">z (m)</text>
<text x="395.20" y="8.15">Semi–diurnal lateral velocity at maximum flood</text>
</g>
<text x="356.10" y="12.6" font-family="'Liberation Sans', sans-serif" font-weight="bold" font-size="16px" fill="#111">b</text>
</svg>
</body></html>
